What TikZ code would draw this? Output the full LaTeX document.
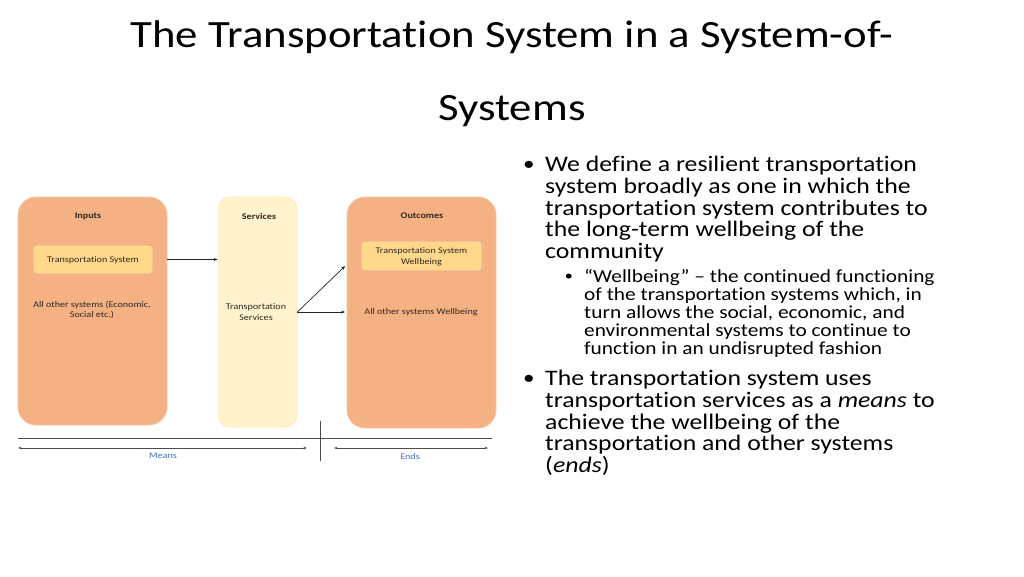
\documentclass[tikz,border=0pt]{standalone}
\usepackage{fontspec}
\setmainfont{Carlito}[FakeStretch=1.16, Ligatures=NoCommon]
\usetikzlibrary{arrows.meta}
\definecolor{boxorange}{RGB}{244,177,131}
\definecolor{boxorangeedge}{RGB}{248,196,160}
\definecolor{boxyellow}{RGB}{255,242,204}
\definecolor{boxyellowedge}{RGB}{255,235,180}
\definecolor{innerbox}{RGB}{255,216,138}
\definecolor{innerboxedge}{RGB}{255,226,160}
\definecolor{labtext}{RGB}{50,40,35}
\definecolor{meansblue}{RGB}{68,114,196}
\tikzset{
  bigbox/.style={draw=boxorangeedge, line width=0.8pt, fill=boxorange, rounded corners=18pt, inner sep=0pt},
  svcbox/.style={draw=boxyellowedge, line width=0.8pt, fill=boxyellow, rounded corners=12pt, inner sep=0pt},
  smallbox/.style={draw=innerboxedge, line width=0.6pt, fill=innerbox, rounded corners=3pt, inner sep=0pt},
  hdr/.style={font=\fontsize{8.7}{10}\selectfont\bfseries, text=labtext, inner sep=0pt},
  lab/.style={font=\fontsize{8.7}{10.8}\selectfont, text=labtext, align=center, inner sep=0pt},
  conn/.style={draw=black!85, line width=0.7pt, -{Stealth[length=4pt,width=3pt]}},
  axis/.style={draw=black!70, line width=0.9pt},
  dbl/.style={draw=black!70, line width=0.7pt, {Stealth[length=3.5pt,width=2.5pt]}-{Stealth[length=3.5pt,width=2.5pt]}},
  axlab/.style={font=\fontsize{8.7}{10}\selectfont, text=meansblue, inner sep=0pt},
  body/.style={font=\fontsize{22.2}{21.7}\selectfont, align=left, inner sep=0pt, anchor=north west},
  subbody/.style={font=\fontsize{18.4}{18}\selectfont, align=left, inner sep=0pt, anchor=north west},
  bul/.style={font=\fontsize{20}{20}\selectfont, inner sep=0pt},
  subbul/.style={font=\fontsize{14}{14}\selectfont, inner sep=0pt},
  ttl/.style={font=\fontsize{38.6}{40}\selectfont, inner sep=0pt}
}
\begin{document}
\begin{tikzpicture}[x=1pt,y=-1pt]
\useasboundingbox[fill=white] (0,0) rectangle (1024,576);

% title
\node[ttl] (t1) at (512,37) {The Transportation System in a System-of-};
\node[ttl] (t2) at (512,111) {Systems};

% boxes
\node[bigbox, minimum width=149pt, minimum height=228pt] (inputs) at (92.5,311) {};
\node[svcbox, minimum width=79pt, minimum height=230pt] (services) at (257.5,312) {};
\node[bigbox, minimum width=149pt, minimum height=231pt] (outcomes) at (421.5,312.5) {};

\node[hdr] (inlab) at (88,216) {Inputs};
\node[hdr] (svlab) at (259,216) {Services};
\node[hdr] (oclab) at (422,216) {Outcomes};

\node[smallbox, minimum width=118pt, minimum height=27pt] (tsysbox) at (93,259.5) {};
\node[lab] (tsys) at (93,260) {Transportation System};
\node[lab] (others) at (92,310) {All other systems (Economic,\\Social etc.)};

\node[lab] (tserv) at (256,312) {Transportation\\Services};

\node[smallbox, minimum width=119pt, minimum height=28pt] (tswbox) at (421.5,256) {};
\node[lab] (tsw) at (421.5,256.5) {Transportation System\\Wellbeing};
\node[lab] (oww) at (421,312) {All other systems Wellbeing};

% connectors
\coordinate (a1s) at (inputs.east |- tsysbox.center);
\draw[conn] (a1s) -- (a1s -| services.west);
\coordinate (so) at (services.east |- tserv.center);
\coordinate (up) at ([yshift=-10pt]outcomes.west |- tswbox.center);
\draw[conn] (so) -- ([xshift=-1.5pt]up);
\draw[conn] (so) -- ([xshift=-1.5pt]so -| outcomes.west);

% bottom axis
\coordinate (hl) at (18,438);
\coordinate (hr) at (492,438);
\coordinate (vt) at (320,421);
\coordinate (vb) at (320,461);
\draw[axis] (hl) -- (hr);
\draw[axis] (vt) -- (vb);
\coordinate (ml) at (18,448);
\coordinate (mr) at (307,448);
\coordinate (el) at (334,448);
\coordinate (er) at (488,448);
\draw[dbl] (ml) -- (mr);
\draw[dbl] (el) -- (er);
\node[axlab] (means) at (163,456) {Means};
\node[axlab] (ends) at (410,457) {Ends};

% right text
\node[bul] (b1) at (529,166) {•};
\node[body] (p1) at (545,156) {We define a resilient transportation\\system broadly as one in which the\\transportation system contributes to\\the long-term wellbeing of the\\community};
\node[subbul] (b2) at (569,277) {•};
\node[subbody] (p2) at (584,269) {“Wellbeing” – the continued functioning\\of the transportation systems which, in\\turn allows the social, economic, and\\environmental systems to continue to\\function in an undisrupted fashion};
\node[bul] (b3) at (529,380) {•};
\node[body] (p3) at (545,370) {The transportation system uses\\transportation services as a \textit{means} to\\achieve the wellbeing of the\\transportation and other systems\\(\textit{ends})};
\end{tikzpicture}
\end{document}
